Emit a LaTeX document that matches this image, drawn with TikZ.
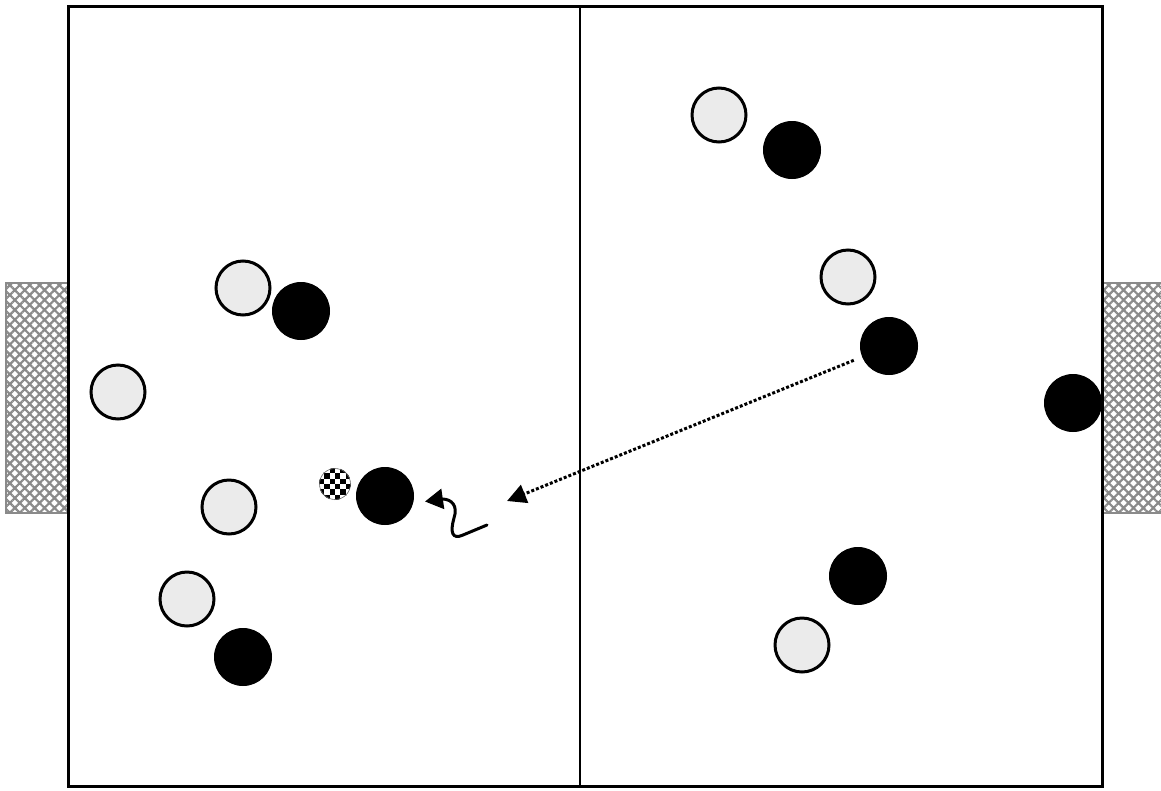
\documentclass[tikz,border=0pt]{standalone}
\usetikzlibrary{patterns.meta,arrows.meta}
\definecolor{lightplayer}{HTML}{EBEBEB}
\definecolor{netgray}{HTML}{8A8A8A}
\begin{document}
\begin{tikzpicture}[x=1pt,y=-1pt,
  fieldline/.style={line width=3pt,black},
  midline/.style={line width=2pt,black},
  goalbox/.style={pattern={Hatch[angle=45,distance=7pt,line width=2.2pt]},pattern color=netgray},
  goalline/.style={line width=1.5pt,netgray},
  white player/.style={circle,draw=black,line width=3pt,fill=lightplayer,minimum size=54pt,inner sep=0pt},
  black player/.style={circle,draw=black,line width=1pt,fill=black,minimum size=57pt,inner sep=0pt},
  pass/.style={line width=3pt,dash pattern=on 3pt off 2pt,-{Triangle[length=19pt,width=19pt]}},
  dribble/.style={line width=3pt,-{Triangle[length=18pt,width=20pt]}}]
\useasboundingbox (0,0) rectangle (1161,790);
% goals
\fill[goalbox] (6,283) rectangle (68,513);
\draw[goalline] (68,283) -- (6,283) -- (6,513) -- (68,513);
\fill[goalbox] (1102,283) rectangle (1161,513);
\draw[goalline] (1161,283) -- (1102,283) -- (1102,513) -- (1161,513);
% field
\draw[fieldline,fill=none] (68,6) rectangle (1102,786);
\draw[midline] (580,6) -- (580,786);
% players
\node[white player] (w1) at (243,288) {};
\node[white player] (w2) at (118,392) {};
\node[white player] (w3) at (229,507) {};
\node[white player] (w4) at (187,599) {};
\node[white player] (w5) at (719,115) {};
\node[white player] (w6) at (848,277) {};
\node[white player] (w7) at (802,645) {};
\node[black player] (b1) at (301,311) {};
\node[black player] (b2) at (385,496) {};
\node[black player] (b3) at (243,657) {};
\node[black player] (b4) at (792,150) {};
\node[black player] (b5) at (889,346) {};
\node[black player] (b6) at (1073,403) {};
\node[black player] (b7) at (858,576) {};
% ball
\begin{scope}
  \clip (335,484) circle (16pt);
  \fill[white] (335,484) circle (16pt);
  \foreach \i in {0,...,7}{
    \foreach \j in {0,...,7}{
      \pgfmathtruncatemacro{\p}{mod(\i+\j,2)}
      \ifnum\p=0
        \fill[black] (319+\i*5.3,468+\j*5.3) rectangle ++(5.3,5.3);
      \fi
    }
  }
\end{scope}
\node[circle,draw=black!60,line width=0.6pt,minimum size=31pt,inner sep=0pt] (ball) at (335,484) {};
% pass
\coordinate (passend) at (507,501);
\draw[pass,shorten <=9pt] (b5) -- (passend);
% dribble
\coordinate (ds) at (487,525);
\coordinate (dt) at (425,501.5);
\draw[dribble,line cap=round] (ds) -- (463,535) .. controls (452,540) and (450,532) .. (454,518) .. controls (458,506) and (452,499) .. (442,499) -- (dt);
\end{tikzpicture}
\end{document}
